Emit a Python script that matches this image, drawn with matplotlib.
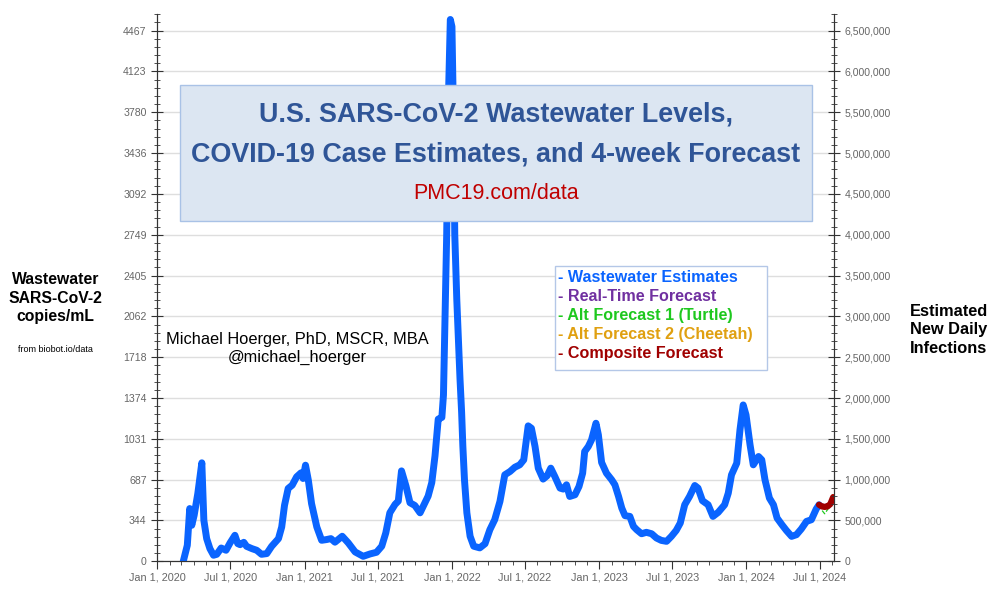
import numpy as np
import pandas as pd
import matplotlib
matplotlib.use("Agg")
import matplotlib.pyplot as plt
import matplotlib.dates as mdates
from matplotlib.ticker import FixedLocator, MultipleLocator, FuncFormatter
from matplotlib.patches import Rectangle

plt.rcParams["font.family"] = ["Liberation Sans", "DejaVu Sans"]

# --- data ---
START = pd.Timestamp("2020-01-01")

# days since Jan 1 2020, wastewater copies/mL
days = [65, 75, 81, 86, 92, 101, 111, 116, 123, 131, 140, 148, 159, 171, 181,
        193, 200, 206, 215, 222, 235, 247, 259, 272, 284, 301, 309, 316, 325,
        335, 346, 357, 362, 368, 375, 383, 396, 408, 420, 431, 441, 459, 474,
        491, 511, 528, 544, 557, 567, 577, 590, 598, 606, 617, 627, 639, 652,
        662, 672, 681, 689, 697, 706, 710, 714, 718, 723, 727, 731, 735, 738,
        743, 751, 755, 758, 762, 768, 776, 785, 800, 813, 825, 837, 850, 862,
        875, 887, 899, 909, 920, 928, 937, 945, 957, 967, 976, 986, 999, 1007,
        1015, 1023, 1036, 1046, 1055, 1060, 1069, 1077, 1088, 1094, 1102, 1114,
        1127, 1135, 1144, 1152, 1160, 1172, 1181, 1189, 1201, 1213, 1226, 1238,
        1250, 1263, 1275, 1287, 1297, 1308, 1320, 1333, 1341, 1352, 1366, 1378,
        1391, 1407, 1416, 1424, 1437, 1445, 1453, 1460, 1470, 1478, 1491, 1499,
        1507, 1518, 1528, 1537, 1549, 1560, 1573, 1585, 1597, 1610, 1622, 1634,
        1641]
copies_ml = [0, 135, 444, 303, 388, 570, 829, 346, 191, 107, 51, 59, 112, 93,
             155, 219, 149, 140, 160, 126, 107, 93, 59, 65, 126, 191, 289, 472,
             613, 641, 711, 745, 697, 809, 683, 486, 289, 177, 183, 191, 161,
             211, 155, 79, 42, 62, 76, 127, 239, 408, 479, 507, 761, 634, 493,
             470, 408, 479, 549, 662, 887, 1197, 1211, 1400, 2100, 2752, 4000,
             4560, 4500, 3700, 2752, 2204, 1535, 1254, 972, 690, 408, 211, 127,
             113, 148, 266, 350, 504, 728, 756, 792, 812, 854, 1140, 1120, 966,
             784, 692, 720, 784, 714, 616, 608, 644, 546, 560, 630, 742, 924,
             966, 1022, 1162, 1064, 832, 742, 686, 644, 546, 448, 384, 378, 294,
             266, 232, 244, 232, 196, 176, 168, 210, 260, 322, 476, 546, 638,
             616, 510, 476, 378, 412, 476, 574, 728, 826, 1106, 1316, 1232, 980,
             812, 882, 854, 686, 532, 476, 364, 308, 260, 210, 224, 272, 336,
             350, 440, 476]

# 4-week forecasts (weekly)
fc_days = [1641, 1648, 1655, 1662, 1669, 1676]
fc_realtime = [476, 480, 482, 484, 488, 495]
fc_turtle = [476, 430, 400, 435, 470, 505]
fc_cheetah = [476, 466, 462, 468, 495, 548]
fc_composite = [476, 462, 458, 462, 482, 540]

left_ticks = [0, 344, 687, 1031, 1374, 1718, 2062, 2405, 2749, 3092, 3436,
              3780, 4123, 4467]
infections_per_copy = 500000 / 343.6

legend_items = [("- Wastewater Estimates", "#0a64ff"),
                ("- Real-Time Forecast", "#7030a0"),
                ("- Alt Forecast 1 (Turtle)", "#1ec81e"),
                ("- Alt Forecast 2 (Cheetah)", "#e0a010"),
                ("- Composite Forecast", "#a00000")]

# --- figure ---
fig = plt.figure(figsize=(9.94, 5.89), dpi=100)
ax = fig.add_axes([0.158, 0.047, 0.681, 0.93])

to_dates = lambda d: START + pd.to_timedelta(d, unit="D")

ax.plot(to_dates(days), copies_ml, color="#0a64ff", lw=5,
        solid_joinstyle="round", solid_capstyle="round", zorder=3)
ax.plot(to_dates(fc_days), fc_turtle, color="#1ec81e", lw=0.9, ls="--", zorder=4)
ax.plot(to_dates(fc_days), fc_realtime, color="#7030a0", lw=0.9, ls=":", zorder=4)
ax.plot(to_dates(fc_days), fc_cheetah, color="#e0a010", lw=2.5, zorder=4)
ax.plot(to_dates(fc_days), fc_composite, color="#a00000", lw=4.5,
        solid_capstyle="round", zorder=5)

ax.set_xlim(START, pd.Timestamp("2024-08-05"))
ax.set_ylim(0, 4610)

ax.yaxis.set_major_locator(FixedLocator(np.arange(14) * 343.6))
ax.set_yticklabels([str(t) for t in left_ticks])
ax.yaxis.set_minor_locator(MultipleLocator(343.6 / 5))
ax.grid(axis="y", which="major", color="#dedede", lw=1)
ax.set_axisbelow(True)

ax.xaxis.set_major_locator(mdates.MonthLocator(bymonth=[1, 7]))
ax.xaxis.set_major_formatter(mdates.DateFormatter("%b 1, %Y"))
ax.xaxis.set_minor_locator(mdates.MonthLocator())

ax2 = ax.twinx()
ax2.set_ylim(0, 4610 * infections_per_copy)
ax2.yaxis.set_major_locator(MultipleLocator(500000))
ax2.yaxis.set_minor_locator(MultipleLocator(100000))
ax2.yaxis.set_major_formatter(FuncFormatter(lambda v, p: f"{int(v):,}"))

for a in (ax, ax2):
    a.spines["top"].set_visible(False)
    for s in ("left", "right", "bottom"):
        a.spines[s].set_color("#333333")
    a.tick_params(axis="y", which="major", direction="inout", length=8,
                  color="#333333", labelcolor="#666666", labelsize=7.6)
    a.tick_params(axis="y", which="minor", direction="inout", length=5,
                  color="#333333")
ax.tick_params(axis="x", which="major", length=6, color="#333333",
               labelcolor="#666666", labelsize=7.8, pad=2)
ax.tick_params(axis="x", which="minor", length=3, color="#333333")

# title box
fig.add_artist(Rectangle((0.181, 0.625), 0.636, 0.231, transform=fig.transFigure,
                         facecolor="#dce6f2", edgecolor="#a9c2e6", lw=1, zorder=6))
fig.text(0.499, 0.805, "U.S. SARS-CoV-2 Wastewater Levels,", ha="center",
         va="center", fontsize=19.4, fontweight="bold", color="#2f5597", zorder=7)
fig.text(0.499, 0.737, "COVID-19 Case Estimates, and 4-week Forecast",
         ha="center", va="center", fontsize=19.4, fontweight="bold",
         color="#2f5597", zorder=7)
fig.text(0.499, 0.671, "PMC19.com/data", ha="center", va="center",
         fontsize=15.5, color="#c00000", zorder=7)

# legend box
fig.add_artist(Rectangle((0.558, 0.372), 0.214, 0.176, transform=fig.transFigure,
                         facecolor="white", edgecolor="#b4c7e7", lw=1, zorder=6))
for i, (label, col) in enumerate(legend_items):
    fig.text(0.561, 0.529 - i * 0.0325, label, ha="left", va="center",
             fontsize=11.6, fontweight="bold", color=col, zorder=7)

# author
fig.text(0.299, 0.424, "Michael Hoerger, PhD, MSCR, MBA", ha="center",
         va="center", fontsize=11.8)
fig.text(0.299, 0.394, "@michael_hoerger", ha="center", va="center",
         fontsize=11.8)

# axis labels
fig.text(0.056, 0.494, "Wastewater\nSARS-CoV-2\ncopies/mL", ha="center",
         va="center", fontsize=11.3, fontweight="bold", linespacing=1.3)
fig.text(0.056, 0.406, "from biobot.io/data", ha="center", va="center",
         fontsize=6.5)
fig.text(0.915, 0.44, "Estimated\nNew Daily\nInfections", ha="left",
         va="center", fontsize=11.8, fontweight="bold", linespacing=1.3)

fig.savefig("out.png", dpi=100)
